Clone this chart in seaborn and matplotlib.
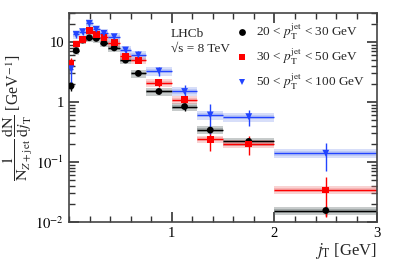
import matplotlib
matplotlib.use("Agg")
import matplotlib.pyplot as plt
import seaborn as sns
import pandas as pd
import numpy as np
from matplotlib.ticker import FixedLocator, FixedFormatter, LogLocator, NullFormatter, MultipleLocator

# jT bin edges [GeV]
bin_edges = [0, 0.04, 0.1, 0.165, 0.23, 0.3, 0.38, 0.5, 0.6, 0.75, 1.0, 1.25, 1.5, 2.0, 3.0]

# 1/N dN/djT per pT(jet) bin
y_20_30 = [1.85, 7.2, 10.8, 11.8, 11.5, 9.6, 8.0, 5.0, 3.0, 1.5, 0.84, 0.34, 0.22, 0.0155]
y_30_50 = [4.4, 9.3, 11.0, 15.5, 13.5, 12.0, 9.8, 5.8, 5.0, 2.1, 1.1, 0.24, 0.20, 0.034]
y_50_100 = [3.6, 13.4, 14.9, 20.5, 16.3, 14.0, 12.3, 7.4, 6.1, 3.3, 1.5, 0.61, 0.57, 0.14]

# statistical uncertainties (absolute)
stat_20_30 = [0.3, 0.4, 0.5, 0.5, 0.5, 0.4, 0.4, 0.3, 0.2, 0.15, 0.12, 0.02, 0.03, 0.003]
stat_30_50 = [1.0, 0.8, 0.8, 1.0, 0.9, 0.8, 0.7, 0.5, 0.5, 0.3, 0.15, 0.085, 0.07, 0.022]
stat_50_100 = [1.5, 1.8, 2.0, 2.5, 2.0, 1.6, 1.4, 1.0, 0.9, 0.6, 0.45, 0.32, 0.17, 0.07]

# relative systematic uncertainties
syst_rel = {"20-30": 0.15, "30-50": 0.15, "50-100": 0.17}

labels = {
    "20-30": r"20 < $p_{\rm T}^{\rm jet}$ < 30 GeV",
    "30-50": r"30 < $p_{\rm T}^{\rm jet}$ < 50 GeV",
    "50-100": r"50 < $p_{\rm T}^{\rm jet}$ < 100 GeV",
}
line_colors = {"20-30": "#000000", "30-50": "#ff0000", "50-100": "#2244ff"}
band_colors = {"20-30": "#5f6b6b", "30-50": "#f08080", "50-100": "#8fa3f0"}
markers = {"20-30": "o", "30-50": "s", "50-100": "v"}

edges = np.array(bin_edges)
centers = 0.5 * (edges[:-1] + edges[1:])
half_w = 0.5 * np.diff(edges)

frames = []
for key, yv, ev in [("20-30", y_20_30, stat_20_30),
                    ("30-50", y_30_50, stat_30_50),
                    ("50-100", y_50_100, stat_50_100)]:
    frames.append(pd.DataFrame({"jT": centers, "val": yv, "stat": ev,
                                "lo": edges[:-1], "hi": edges[1:],
                                "bin": labels[key], "key": key}))
df = pd.concat(frames, ignore_index=True)

sns.set_theme(style="ticks")
plt.rcParams['font.family'] = ['Liberation Serif', 'DejaVu Serif']
plt.rcParams['mathtext.fontset'] = 'stix'
plt.rcParams['xtick.direction'] = 'in'
plt.rcParams['ytick.direction'] = 'in'

fig = plt.figure(figsize=(4.06, 2.74), dpi=100)
ax = fig.add_axes([0.170, 0.19, 0.759, 0.764])

# systematic bands
for key, sub in df.groupby("key", sort=False):
    r = syst_rel[key]
    for _, row in sub.iterrows():
        for frac, alpha in [(r, 0.35), (r * 0.5, 0.35)]:
            ax.fill_between([row.lo, row.hi], row.val * (1 - frac), row.val * (1 + frac),
                            color=band_colors[key], alpha=alpha, lw=0, zorder=1)

# error bars (stat + bin width)
for key, sub in df.groupby("key", sort=False):
    ax.errorbar(sub["jT"], sub["val"], yerr=sub["stat"], xerr=half_w,
                fmt="none", ecolor=line_colors[key], elinewidth=1.0, capsize=0, zorder=2)

sns.scatterplot(data=df, x="jT", y="val", hue="bin", style="bin",
                palette={labels[k]: line_colors[k] for k in labels},
                markers={labels[k]: markers[k] for k in labels},
                s=24, edgecolor="none", linewidth=0, zorder=3, ax=ax)

ax.set_yscale("log")
ax.set_xlim(0, 3)
ax.set_ylim(0.01, 31)

ax.xaxis.set_major_locator(FixedLocator([1, 2, 3]))
ax.xaxis.set_minor_locator(MultipleLocator(0.2))
ax.yaxis.set_major_locator(FixedLocator([0.01, 0.1, 1, 10]))
ax.yaxis.set_major_formatter(FixedFormatter([r"$10^{-2}$", r"$10^{-1}$", "1", "10"]))
ax.yaxis.set_minor_locator(LogLocator(base=10, subs=np.arange(2, 10)))
ax.yaxis.set_minor_formatter(NullFormatter())

ax.tick_params(which="both", top=True, right=True, colors="#333333", labelcolor="black",
               labelsize=10.5)
ax.tick_params(which="major", length=7, width=1.2)
ax.tick_params(which="minor", length=4, width=1.0)
for sp in ax.spines.values():
    sp.set_color("#444444")
    sp.set_linewidth(1.2)

ax.set_xlabel(r"$j_{\rm T}$ [GeV]", fontsize=12, loc="right", labelpad=1)
ax.set_ylabel(r"$\dfrac{1}{{\rm N}_{Z{\rm +jet}}}\,\dfrac{{\rm dN}}{{\rm d}j_{\rm T}}$ [GeV$^{-1}$]",
              fontsize=11.5, labelpad=1)

ax.text(0.331, 0.900, "LHCb", transform=ax.transAxes, fontsize=9.5, va="center")
ax.text(0.331, 0.828, "√s = 8 TeV", transform=ax.transAxes, fontsize=9.5, va="center")

handles, lbls = ax.get_legend_handles_labels()
ax.legend(handles, lbls, loc="upper left", bbox_to_anchor=(0.49, 1.0), frameon=False,
          fontsize=9.5, handletextpad=0.0, labelspacing=0.35, borderpad=0.2, markerscale=1.0)

fig.savefig("out.png", dpi=100)
